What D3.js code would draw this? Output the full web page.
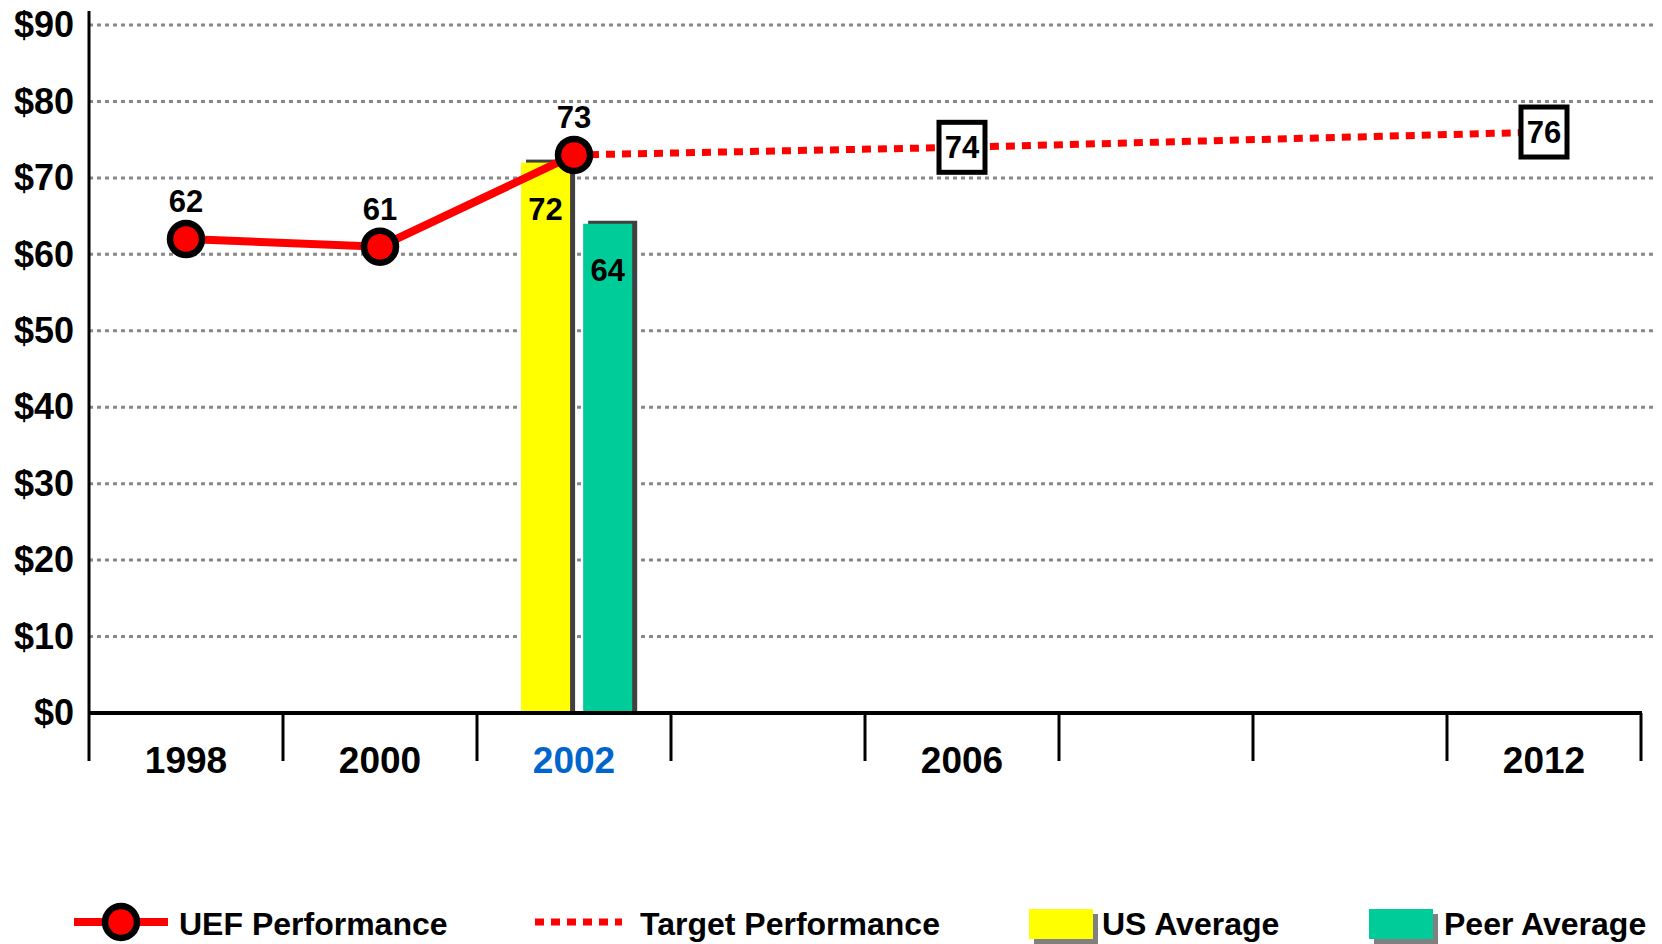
<!DOCTYPE html>
<html>
<head>
<meta charset="utf-8">
<script src="https://cdn.jsdelivr.net/npm/d3@7"></script>
<style>
  body { margin: 0; background: #fff; }
  text { font-family: "Liberation Sans", Arial, sans-serif; font-weight: bold; }
</style>
</head>
<body>
<script>
// chart data
var years = ["1998", "2000", "2002", "2004", "2006", "2008", "2010", "2012"];
var yearLabels = ["1998", "2000", "2002", "", "2006", "", "", "2012"];
var highlightYear = "2002";
var yTicks = [0, 10, 20, 30, 40, 50, 60, 70, 80, 90];

var uefYears = ["1998", "2000", "2002"];
var uefValues = [62, 61, 73];

var targetYears = ["2002", "2006", "2012"];
var targetValues = [73, 74, 76];

var barYear = "2002";
var barSeries = ["US Average", "Peer Average"];
var barValues = [72, 64];
var barColors = ["#ffff00", "#00cc99"];

var legendNames = ["UEF Performance", "Target Performance", "US Average", "Peer Average"];

var width = 1662, height = 944;

var svg = d3.select("body").append("svg")
  .attr("width", width)
  .attr("height", height);

var x = d3.scaleBand().domain(years).range([89, 1641]).padding(0);
var y = d3.scaleLinear().domain([0, 90]).range([713, 25]);

var xb = d3.scaleBand().domain(barSeries)
  .range([x.bandwidth() * 0.227, x.bandwidth() * 0.8])
  .paddingInner(0.21);

var cx = function(yr) { return x(yr) + x.bandwidth() / 2; };

// gridlines
svg.append("g").selectAll("line")
  .data(yTicks.filter(function(d) { return d > 0; }))
  .enter().append("line")
  .attr("x1", 89).attr("x2", 1656)
  .attr("y1", function(d) { return y(d); })
  .attr("y2", function(d) { return y(d); })
  .attr("stroke", "#888")
  .attr("stroke-width", 3)
  .attr("stroke-dasharray", "4,4");

// y labels
svg.append("g").selectAll("text")
  .data(yTicks)
  .enter().append("text")
  .attr("x", 74)
  .attr("y", function(d) { return y(d); })
  .attr("dy", "0.34em")
  .attr("text-anchor", "end")
  .attr("font-size", "36px")
  .text(function(d) { return "$" + d; });

// bars with shadow
var bars = svg.append("g").attr("transform", "translate(" + x(barYear) + ",0)");
bars.selectAll("rect.shadow")
  .data(barValues).enter().append("rect")
  .attr("class", "shadow")
  .attr("x", function(d, i) { return xb(barSeries[i]) + 5; })
  .attr("y", function(d) { return y(d) - 3; })
  .attr("width", xb.bandwidth())
  .attr("height", function(d) { return y(0) - y(d) + 3; })
  .attr("fill", "#404040");
bars.selectAll("rect.bar")
  .data(barValues).enter().append("rect")
  .attr("class", "bar")
  .attr("x", function(d, i) { return xb(barSeries[i]); })
  .attr("y", function(d) { return y(d); })
  .attr("width", xb.bandwidth())
  .attr("height", function(d) { return y(0) - y(d); })
  .attr("fill", function(d, i) { return barColors[i]; });
bars.selectAll("text")
  .data(barValues).enter().append("text")
  .attr("x", function(d, i) { return xb(barSeries[i]) + xb.bandwidth() / 2; })
  .attr("y", function(d) { return y(d) + 57; })
  .attr("text-anchor", "middle")
  .attr("font-size", "31px")
  .text(function(d) { return d; });

// axes
var bounds = years.map(function(d) { return x(d); }).concat([x.range()[1]]);
svg.append("g").selectAll("line")
  .data(bounds).enter().append("line")
  .attr("x1", function(d) { return d; }).attr("x2", function(d) { return d; })
  .attr("y1", y(0)).attr("y2", y(0) + 48)
  .attr("stroke", "#000").attr("stroke-width", 3);
svg.append("line")
  .attr("x1", 89).attr("x2", 1642)
  .attr("y1", y(0)).attr("y2", y(0))
  .attr("stroke", "#000").attr("stroke-width", 4);
svg.append("line")
  .attr("x1", 89).attr("x2", 89)
  .attr("y1", 11).attr("y2", y(0))
  .attr("stroke", "#000").attr("stroke-width", 3);

var xAxis = svg.append("g")
  .attr("transform", "translate(0," + y(0) + ")")
  .call(d3.axisBottom(x).tickSize(0).tickPadding(0)
    .tickFormat(function(d, i) { return yearLabels[i]; }));
xAxis.select(".domain").remove();
xAxis.selectAll("text")
  .attr("font-family", null)
  .attr("font-size", "37px")
  .attr("dy", null)
  .attr("y", 60)
  .attr("fill", function(d) { return d === highlightYear ? "#0066cc" : "#000"; });

// target line
var line = d3.line()
  .x(function(d) { return cx(d[0]); })
  .y(function(d) { return y(d[1]); });
var targetPts = targetYears.map(function(d, i) { return [d, targetValues[i]]; });
svg.append("path")
  .datum(targetPts)
  .attr("d", line)
  .attr("fill", "none")
  .attr("stroke", "#ff0000")
  .attr("stroke-width", 7)
  .attr("stroke-dasharray", "9,7");

var boxes = svg.append("g").selectAll("g")
  .data(targetPts.slice(1)).enter().append("g")
  .attr("transform", function(d) { return "translate(" + cx(d[0]) + "," + y(d[1]) + ")"; });
boxes.append("rect")
  .attr("x", -23).attr("y", -25).attr("width", 46).attr("height", 50)
  .attr("fill", "#fff").attr("stroke", "#000").attr("stroke-width", 5);
boxes.append("text")
  .attr("text-anchor", "middle").attr("dy", "0.36em")
  .attr("font-size", "31px")
  .text(function(d) { return d[1]; });

// UEF performance
var uefPts = uefYears.map(function(d, i) { return [d, uefValues[i]]; });
svg.append("path")
  .datum(uefPts)
  .attr("d", line)
  .attr("fill", "none")
  .attr("stroke", "#ff0000")
  .attr("stroke-width", 8);
svg.append("g").selectAll("circle")
  .data(uefPts).enter().append("circle")
  .attr("cx", function(d) { return cx(d[0]); })
  .attr("cy", function(d) { return y(d[1]); })
  .attr("r", 16)
  .attr("fill", "#ff0000").attr("stroke", "#000").attr("stroke-width", 6.5);
svg.append("g").selectAll("text")
  .data(uefPts).enter().append("text")
  .attr("x", function(d) { return cx(d[0]); })
  .attr("y", function(d) { return y(d[1]) - 27; })
  .attr("text-anchor", "middle")
  .attr("font-size", "31px")
  .text(function(d) { return d[1]; });

// legend
var ly = 922;
var leg = svg.append("g");
leg.append("line").attr("x1", 74).attr("x2", 168).attr("y1", ly).attr("y2", ly)
  .attr("stroke", "#ff0000").attr("stroke-width", 8);
leg.append("circle").attr("cx", 121).attr("cy", ly).attr("r", 16)
  .attr("fill", "#ff0000").attr("stroke", "#000").attr("stroke-width", 6.5);
leg.append("line").attr("x1", 535).attr("x2", 622).attr("y1", ly).attr("y2", ly)
  .attr("stroke", "#ff0000").attr("stroke-width", 7).attr("stroke-dasharray", "9,7");
[1029, 1369].forEach(function(lx, i) {
  leg.append("rect").attr("x", lx + 5).attr("y", 914).attr("width", 64).attr("height", 30)
    .attr("fill", "#808080");
  leg.append("rect").attr("x", lx).attr("y", 909).attr("width", 64).attr("height", 30)
    .attr("fill", barColors[i]);
});
leg.selectAll("text")
  .data(legendNames).enter().append("text")
  .attr("x", function(d, i) { return [179, 640, 1102, 1444][i]; })
  .attr("y", 935)
  .attr("font-size", "32px")
  .text(function(d) { return d; });
</script>
</body>
</html>
